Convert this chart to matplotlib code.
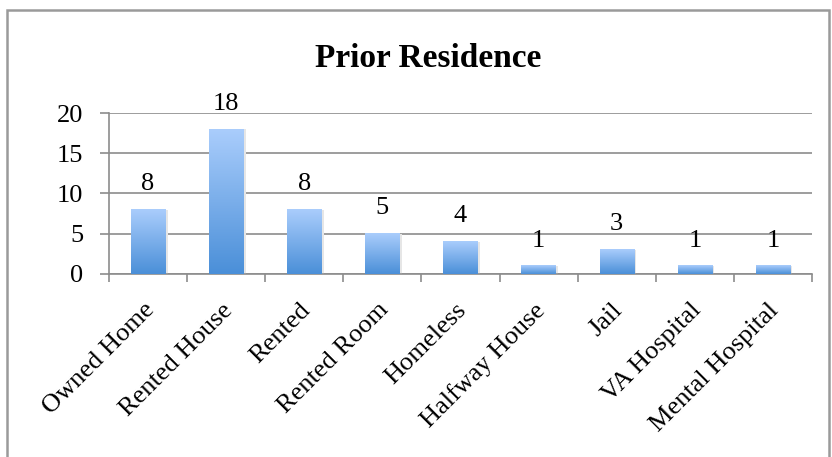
import numpy as np
import matplotlib.pyplot as plt
import matplotlib.transforms as mtransforms
from matplotlib.patches import Rectangle
from matplotlib.colors import LinearSegmentedColormap

categories = ["Owned Home", "Rented House", "Rented", "Rented Room", "Homeless",
              "Halfway House", "Jail", "VA Hospital", "Mental Hospital"]
counts = [8, 18, 8, 5, 4, 1, 3, 1, 1]
yticks = [0, 5, 10, 15, 20]

plt.rcParams['font.family'] = ['Liberation Serif', 'DejaVu Serif']

fig = plt.figure(figsize=(8.32, 4.57), dpi=100)
ax = fig.add_axes([109 / 832, 1 - 274 / 457, 703 / 832, 161 / 457])

# chart border
fig.patches.append(Rectangle((7 / 832, -0.05), 822 / 832, 1 - 10 / 457 + 0.05,
                             transform=fig.transFigure, fill=False,
                             edgecolor='#9a9a9a', lw=1.8))

x = np.arange(len(categories))
bars = ax.bar(x, counts, width=0.44, color='none', zorder=3)

cmap = LinearSegmentedColormap.from_list('bl', ['#4a8fd8', '#aacdfc'])
grad = np.linspace(0, 1, 256).reshape(-1, 1)
for b in bars:
    x0, y0 = b.get_x(), b.get_y()
    w, h = b.get_width(), b.get_height()
    # faint shadow on the right
    ax.add_patch(Rectangle((x0 + w, y0), 0.03, h, color='#e6e6e6', zorder=2, lw=0))
    ax.imshow(grad, cmap=cmap, origin='lower', aspect='auto',
              extent=(x0, x0 + w, y0, y0 + h), zorder=3)

for xi, v in zip(x, counts):
    ax.annotate(str(v), (xi, v), xytext=(0, 14), textcoords='offset points',
                ha='center', va='baseline', fontsize=19)

ax.set_xlim(-0.5, len(categories) - 0.5)
ax.set_ylim(0, 20)
ax.set_yticks(yticks)
ax.tick_params(axis='y', labelsize=19, length=6.5, color='#8c8c8c', width=1.2, pad=12)
ax.yaxis.grid(True, color='#8c8c8c', lw=1.2, zorder=0)
ax.set_axisbelow(True)

ax.set_xticks(x)
ax.set_xticklabels(categories, rotation=45, ha='right', rotation_mode='anchor', fontsize=19)
ax.set_xticks(np.arange(-0.5, len(categories)), minor=True)
ax.tick_params(axis='x', which='major', length=0, pad=18)
ax.tick_params(axis='x', which='minor', length=6, color='#8c8c8c', width=1.2)

# nudge rotated labels left so their ends sit just right of the bar centre
shift = mtransforms.ScaledTranslation(-5 / 100, 0, fig.dpi_scale_trans)
for lab in ax.get_xticklabels():
    lab.set_transform(lab.get_transform() + shift)

for s in ['top', 'right']:
    ax.spines[s].set_visible(False)
ax.spines['left'].set_color('#8c8c8c')
ax.spines['left'].set_linewidth(1.2)
ax.spines['bottom'].set_color('#8c8c8c')
ax.spines['bottom'].set_linewidth(1.2)

fig.text(428 / 832, 1 - 67 / 457, "Prior Residence", ha='center', va='baseline',
         fontsize=24, fontweight='bold')

fig.savefig('out.png', dpi=100)
